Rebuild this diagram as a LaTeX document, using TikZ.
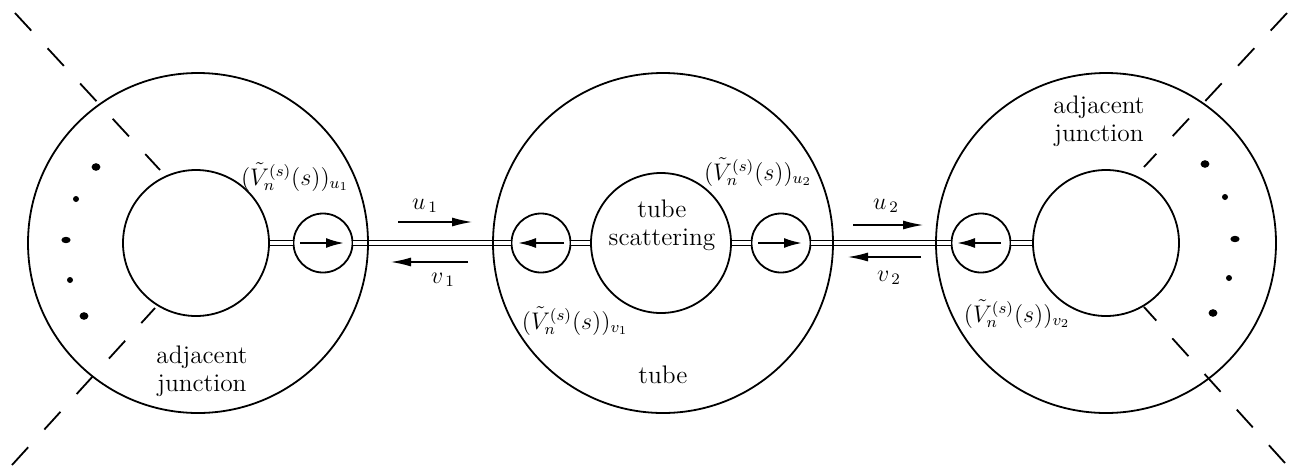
\documentclass[tikz,border=0pt]{standalone}
\usetikzlibrary{arrows.meta}
\begin{document}
\begin{tikzpicture}[x=0.5pt, y=0.5pt, font=\fontsize{12}{14}\selectfont,
    anello/.style={draw, circle, line width=0.9pt, inner sep=0pt, minimum size=170pt},
    nucleo/.style={draw, circle, line width=0.9pt, inner sep=0pt},
    valvola/.style={draw, circle, line width=0.9pt, inner sep=0pt, minimum size=29.5pt},
    tubo/.style={double, line width=0.6pt, double distance=2pt},
    flusso/.style={line width=1pt, -{Latex[length=9pt,width=5pt]}},
    onda/.style={line width=0.6pt, -{Latex[length=10pt,width=4.5pt]}},
    confine/.style={line width=0.9pt, dash pattern=on 12pt off 12pt},
    testo/.style={align=center, inner sep=0pt, font=\fontsize{12.7}{14}\selectfont}]

    % Cornice
    \useasboundingbox (0,-225) rectangle (1296,243);

    % Centri dei tre anelli
    \def\xL{198}    % giunzione sinistra
    \def\xM{663}    % tubo
    \def\xR{1106}   % giunzione destra

    % Nuclei interni
    \node[nucleo, minimum size=73pt] (nL) at (196,0) {};
    \node[nucleo, minimum size=70pt] (nM) at (661,0) {};
    \node[nucleo, minimum size=73pt] (nR) at (1106,0) {};

    % Valvole (cerchi piccoli)
    \node[valvola] (vL)  at (323,0) {};
    \node[valvola] (vML) at (541,0) {};
    \node[valvola] (vMR) at (781,0) {};
    \node[valvola] (vR)  at (981,0) {};

    % Tubi doppi
    \draw[tubo] (nL) -- (vL);
    \draw[tubo] (vL) -- (vML);
    \draw[tubo] (vML) -- (nM);
    \draw[tubo] (nM) -- (vMR);
    \draw[tubo] (vMR) -- (vR);
    \draw[tubo] (vR) -- (nR);

    % Anelli esterni
    \node[anello] (aL) at (\xL,0) {};
    \node[anello] (aM) at (\xM,0) {};
    \node[anello] (aR) at (\xR,0) {};

    % Frecce dentro le valvole
    \foreach \v/\a/\b in {vL/-11.5/10.5, vML/11.5/-11.5, vMR/-11.5/10.5, vR/10/-12} {
        \draw[flusso] ([xshift=\a pt]\v.center) -- ([xshift=\b pt]\v.center);
    }

    % Onde entranti/uscenti
    \coordinate (u1a) at (398,21);  \coordinate (u1b) at (472,21);
    \coordinate (v1a) at (468,-19); \coordinate (v1b) at (391,-19);
    \coordinate (u2a) at (853,18);  \coordinate (u2b) at (923,18);
    \coordinate (v2a) at (921,-14); \coordinate (v2b) at (848,-14);
    \draw[onda] (u1a) -- (u1b);
    \draw[onda] (v1a) -- (v1b);
    \draw[onda] (u2a) -- (u2b);
    \draw[onda] (v2a) -- (v2b);
    \node (lu1) at (425,37) {$u_{\,1}$};
    \node (lv1) at (443,-37) {$v_{\,1}$};
    \node (lu2) at (886,37) {$u_{\,2}$};
    \node (lv2) at (889,-35) {$v_{\,2}$};

    % Ampiezze
    \node (Vu1) at (295,66)   {$(\tilde{V}_n^{(s)}(s))_{u_1}$};
    \node (Vu2) at (758,71)   {$(\tilde{V}_n^{(s)}(s))_{u_2}$};
    \node (Vv1) at (575,-78)  {$(\tilde{V}_n^{(s)}(s))_{v_1}$};
    \node (Vv2) at (1017,-71) {$(\tilde{V}_n^{(s)}(s))_{v_2}$};

    % Scritte
    \node[testo] (tsc) at (662,18)    {tube\\scattering};
    \node[testo] (ttb) at (663,-132)  {tube};
    \node[testo] (tgL) at (202,-128)  {adjacent\\junction};
    \node[testo] (tgR) at (1099,122)  {adjacent\\junction};

    % Confini tratteggiati (dall'esterno verso l'interno)
    \draw[confine] (15,230) -- (160,73);
    \draw[confine] (12,-222) -- (155,-65);
    \draw[confine] (1287,230) -- (1144,76);
    \draw[confine] (1285,-220) -- (1144,-64);

    % Puntini
    \foreach \x/\y/\rx/\ry in {96/76/2.2/1.9, 76/44/1.5/1.5, 66/3/2.3/1.6, 70/-37/1.5/1.5, 84/-73/2.2/1.9,
                               1205/79/2.2/1.9, 1225/46/1.5/1.5, 1235/4/2.3/1.6, 1229/-35/1.5/1.5, 1213/-70/2.2/1.9} {
        \fill (\x,\y) ellipse [x radius=\rx pt, y radius=\ry pt];
    }

\end{tikzpicture}
\end{document}
